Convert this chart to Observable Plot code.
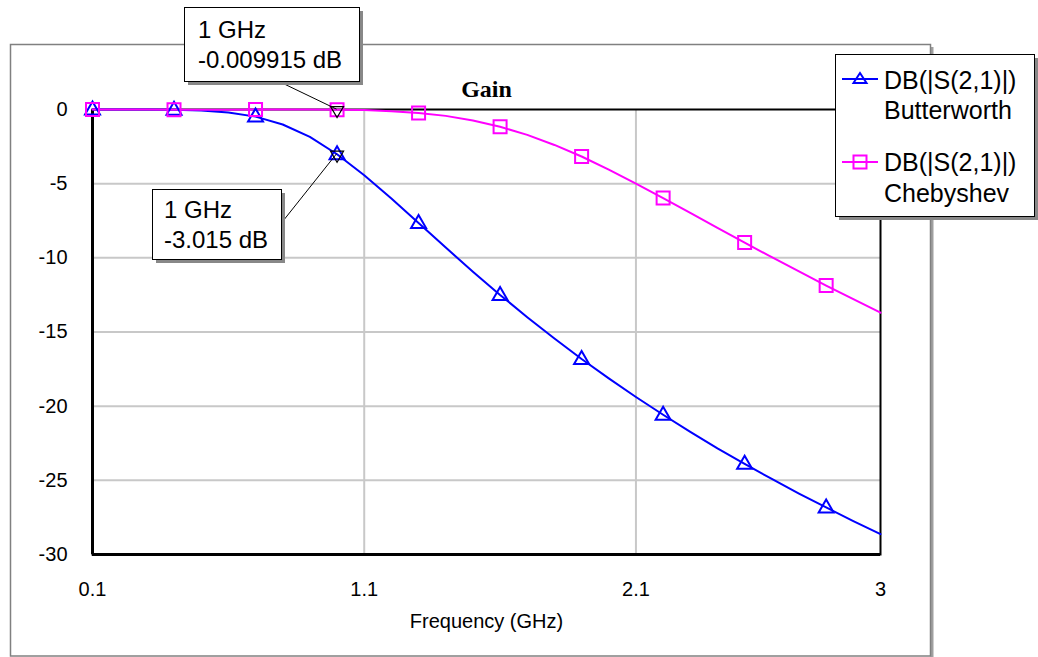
<!DOCTYPE html>
<html><head><meta charset="utf-8">
<script src="https://cdn.jsdelivr.net/npm/d3@7"></script>
<script src="https://cdn.jsdelivr.net/npm/@observablehq/plot@0.6"></script>
<style>
body{margin:0;background:#fff;}
#chart{position:relative;width:1038px;height:657px;}
#chart svg g[aria-label$="tick label"]{font-size:20px;}
#chart svg g[aria-label$="tick label"] text{font-size:20px;}
</style></head><body><div id="chart"></div>
<script>
// ---- data ----
const freq = [0.1,0.2,0.3,0.4,0.5,0.6,0.7,0.8,0.9,1.0,1.1,1.2,1.3,1.4,1.5,1.6,1.7,1.8,1.9,2.0,2.1,2.2,2.3,2.4,2.5,2.6,2.7,2.8,2.9,3.0];
const butterworth = [0,-0.0003,-0.003,-0.02,-0.07,-0.2,-0.48,-1.01,-1.85,-3.015,-4.43,-6.0,-7.65,-9.31,-10.93,-12.5,-14.0,-15.44,-16.82,-18.13,-19.38,-20.58,-21.73,-22.84,-23.89,-24.91,-25.89,-26.83,-27.75,-28.63];
const chebyshev = [-0.001,-0.003,-0.006,-0.009,-0.01,-0.009,-0.005,-0.001,-0.0005,-0.009915,-0.04,-0.11,-0.23,-0.43,-0.74,-1.16,-1.71,-2.39,-3.17,-4.05,-4.99,-5.97,-6.97,-7.98,-8.97,-9.96,-10.92,-11.87,-12.79,-13.7];
const seriesNames = ["Butterworth","Chebyshev"];
const seriesLabel = "DB(|S(2,1)|)";
const seriesColors = ["#0000ff","#ff00ff"];
const xTicks = [0.1,1.1,2.1,3];
const yTicks = [0,-5,-10,-15,-20,-25,-30];
const xGrid = [1.1,2.1];
const yGrid = [-5,-10,-15,-20,-25];
const markerFreq = 1.0;
const markerValues = [-0.009915,-3.015];
const markerTexts = [["1 GHz","-0.009915 dB"],["1 GHz","-3.015 dB"]];
const title = "Gain";
const xLabel = "Frequency (GHz)";

// ---- build table ----
const rows = [];
freq.forEach((f,i)=>{
  rows.push({f, v: butterworth[i], s: seriesNames[0], i});
  rows.push({f, v: chebyshev[i], s: seriesNames[1], i});
});
const symbolRows = rows.filter(d => d.i % 3 === 0);
const markerRows = markerValues.map(v => ({f: markerFreq, v}));

const triUp = {draw(c){ c.moveTo(0,-8); c.lineTo(7.5,5); c.lineTo(-7.5,5); c.closePath(); }};
const triSmall = {draw(c){ c.moveTo(0,-6); c.lineTo(6.5,4); c.lineTo(-6.5,4); c.closePath(); }};
const sq = {draw(c){ c.rect(-6.5,-6.5,13,13); }};
const triDown = {draw(c){ c.moveTo(-6.5,-3); c.lineTo(6.5,-3); c.lineTo(0,8); c.closePath(); }};

const FONT = "'Liberation Sans', Arial, sans-serif";

const plot = Plot.plot({
  width: 1038, height: 657,
  marginLeft: 92, marginRight: 158, marginTop: 109, marginBottom: 103,
  style: {fontSize: "20px", fontFamily: FONT, background: "#fff", overflow: "visible"},
  x: {domain: [0.1, 3]},
  y: {domain: [-30, 0]},
  color: {domain: seriesNames, range: seriesColors},
  marks: [
    Plot.ruleX(xGrid, {stroke: "#c8c8c8", strokeWidth: 2}),
    Plot.ruleY(yGrid, {stroke: "#c8c8c8", strokeWidth: 2}),
    Plot.axisX({ticks: xTicks, tickSize: 0, tickPadding: 27, tickFormat: d => String(d), label: null, fontSize: 20, fill: "#000"}),
    Plot.axisY({ticks: yTicks, tickSize: 0, tickPadding: 25, tickFormat: d => String(d), label: null, fontSize: 20, fill: "#000"}),
    Plot.frame({stroke: "#000", strokeWidth: 2}),
    Plot.ruleX([0.1], {stroke: "#000", strokeWidth: 3}),
    Plot.ruleY([-30], {stroke: "#000", strokeWidth: 3}),
    Plot.line(rows, {x: "f", y: "v", z: "s", stroke: "s", strokeWidth: 2}),
    Plot.dot(symbolRows.filter(d => d.s === seriesNames[0]), {x: "f", y: "v", stroke: "s", symbol: triUp, strokeWidth: 2, fill: "none"}),
    Plot.dot(symbolRows.filter(d => d.s === seriesNames[1]), {x: "f", y: "v", stroke: "s", symbol: sq, strokeWidth: 2, fill: "none"}),
    Plot.dot(markerRows, {x: "f", y: "v", stroke: "#000", symbol: triDown, strokeWidth: 1.2, fill: "none"}),
    Plot.text([title], {frameAnchor: "top", lineAnchor: "middle", dy: -20, text: d => d, fontFamily: "'Liberation Serif', 'Times New Roman', serif", fontWeight: "bold", fontSize: 24}),
    Plot.text([xLabel], {frameAnchor: "bottom", lineAnchor: "middle", dy: 67, text: d => d, fontSize: 20})
  ]
});

const svg = d3.select(plot);
svg.selectAll('g[aria-label$="tick label"]').attr("font-size", 20).selectAll("text").attr("font-size", 20);
const sx = plot.scale("x"), sy = plot.scale("y"), sc = plot.scale("color");

// outer chart frame (behind everything)
const bg = svg.insert("g", ":first-child");
bg.append("line").attr("x1", 932).attr("x2", 932).attr("y1", 47).attr("y2", 657).attr("stroke", "#a0a0a0").attr("stroke-width", 3);
bg.append("rect").attr("x", 10.5).attr("y", 44.5).attr("width", 920).attr("height", 611.5).attr("fill", "#fff").attr("stroke", "#808080").attr("stroke-width", 1.5);

// marker annotation boxes
const boxes = [
  {x: 184, y: 7, w: 175, h: 74, tx: 198, b1: 38, b2: 68, lx: 278, ly: 81},
  {x: 152, y: 189, w: 129, h: 70, tx: 164, b1: 218, b2: 248, lx: 283, ly: 221}
];
const ov = svg.append("g").attr("text-anchor", "start").attr("font-family", FONT);
boxes.forEach((b, k) => {
  const px = sx.apply(markerFreq), py = sy.apply(markerValues[k]);
  ov.append("line").attr("x1", b.lx).attr("y1", b.ly).attr("x2", px).attr("y2", py).attr("stroke", "#000").attr("stroke-width", 1);
  ov.append("rect").attr("x", b.x + 4).attr("y", b.y + 4).attr("width", b.w).attr("height", b.h).attr("fill", "#888");
  ov.append("rect").attr("x", b.x + 0.5).attr("y", b.y + 0.5).attr("width", b.w).attr("height", b.h).attr("fill", "#fff").attr("stroke", "#000").attr("stroke-width", 1);
  ov.append("text").attr("x", b.tx).attr("y", b.b1).attr("font-size", 24).text(markerTexts[k][0]);
  ov.append("text").attr("x", b.tx).attr("y", b.b2).attr("font-size", 24).text(markerTexts[k][1]);
});

// legend
const lg = svg.append("g").attr("text-anchor", "start").attr("font-family", FONT);
lg.append("rect").attr("x", 839).attr("y", 58).attr("width", 199).attr("height", 162).attr("fill", "#888");
lg.append("rect").attr("x", 835.5).attr("y", 54.5).attr("width", 199).attr("height", 162).attr("fill", "#fff").attr("stroke", "#000").attr("stroke-width", 1);
const entries = [{y: 79, b1: 89, b2: 119, sym: triSmall}, {y: 162, b1: 171, b2: 202, sym: sq}];
entries.forEach((e, k) => {
  const col = sc.apply(seriesNames[k]);
  lg.append("line").attr("x1", 842).attr("x2", 878).attr("y1", e.y).attr("y2", e.y).attr("stroke", col).attr("stroke-width", 2);
  const p = d3.path(); e.sym.draw(p);
  lg.append("path").attr("d", p.toString()).attr("transform", `translate(860,${e.y})`).attr("fill", "none").attr("stroke", col).attr("stroke-width", 2);
  lg.append("text").attr("x", 884).attr("y", e.b1).attr("font-size", 25).text(seriesLabel);
  lg.append("text").attr("x", 884).attr("y", e.b2).attr("font-size", 25).text(seriesNames[k]);
});

document.getElementById("chart").appendChild(plot);
</script></body></html>
